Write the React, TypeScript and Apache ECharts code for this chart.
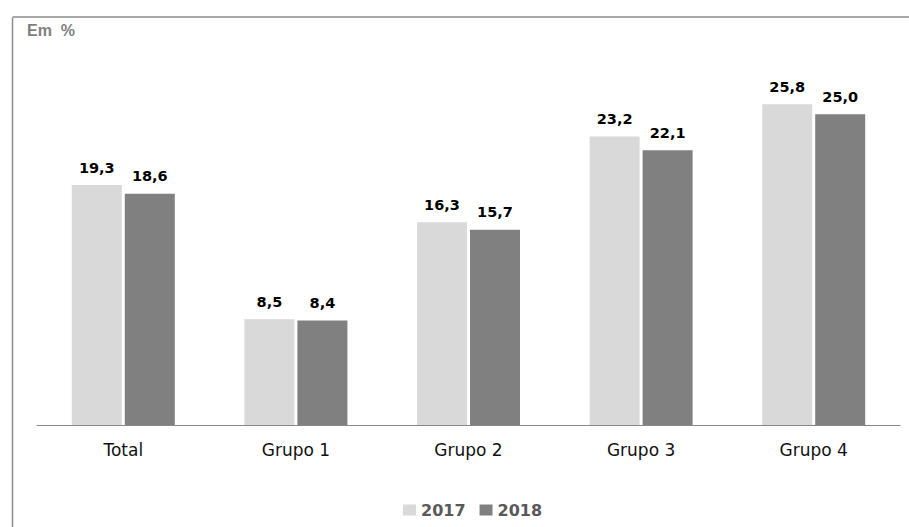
import React, { useEffect, useRef } from "react";
import * as echarts from "echarts";

const categories = ["Total", "Grupo 1", "Grupo 2", "Grupo 3", "Grupo 4"];
const values2017 = [19.3, 8.5, 16.3, 23.2, 25.8];
const values2018 = [18.6, 8.4, 15.7, 22.1, 25.0];
const seriesNames = ["2017", "2018"];

const fmt = (v: number) => v.toFixed(1).replace(".", ",");

export default function App() {
  const ref = useRef<HTMLDivElement>(null);
  useEffect(() => {
    const chart = echarts.init(ref.current!, null, { renderer: "svg" });
    const labelStyle = {
      show: true,
      position: "top" as const,
      distance: 10,
      fontFamily: "DejaVu Sans",
      fontWeight: "bold" as const,
      fontSize: 14.5,
      color: "#000",
      formatter: (p: any) => fmt(p.value),
    };
    chart.setOption({
      animation: false,
      backgroundColor: "#fff",
      graphic: [
        { type: "line", shape: { x1: 0, y1: 0, x2: 0, y2: 600 }, style: { stroke: "#8c8c8c", lineWidth: 1.5 }, top: 15, left: 10 },
        { type: "line", shape: { x1: 0, y1: 0, x2: 1000, y2: 0 }, style: { stroke: "#8c8c8c", lineWidth: 1.5 }, top: 14.5, left: 10 },
        {
          type: "text",
          left: 27,
          top: 22,
          style: { text: "Em  %", fontFamily: "Liberation Sans", fontWeight: "bold", fontSize: 16, fill: "#7f7f7f" },
        },
      ],
      grid: { left: 37, right: 9, top: 52, bottom: 102, containLabel: false },
      legend: {
        top: 497,
        left: 398,
        itemWidth: 13,
        itemHeight: 11,
        itemGap: 14,
        icon: "rect",
        textStyle: { fontFamily: "DejaVu Sans", fontWeight: "bold", fontSize: 16, color: "#595959" },
        data: seriesNames,
      },
      xAxis: {
        type: "category",
        data: categories,
        axisLine: { lineStyle: { color: "#888", width: 1.2 } },
        axisTick: { show: false },
        axisLabel: { fontFamily: "DejaVu Sans", fontSize: 17, color: "#111", margin: 16 },
      },
      yAxis: {
        type: "value",
        min: 0,
        max: 30,
        show: false,
        splitLine: { show: false },
      },
      series: [
        {
          name: seriesNames[0],
          type: "bar",
          data: values2017,
          barWidth: 50,
          barGap: "6%",
          itemStyle: { color: "#d9d9d9" },
          label: labelStyle,
        },
        {
          name: seriesNames[1],
          type: "bar",
          data: values2018,
          barWidth: 50,
          itemStyle: { color: "#808080" },
          label: labelStyle,
        },
      ],
    });
    return () => chart.dispose();
  }, []);
  return <div ref={ref} style={{ width: 909, height: 527, position: "absolute", left: 0, top: 0 }} />;
}
